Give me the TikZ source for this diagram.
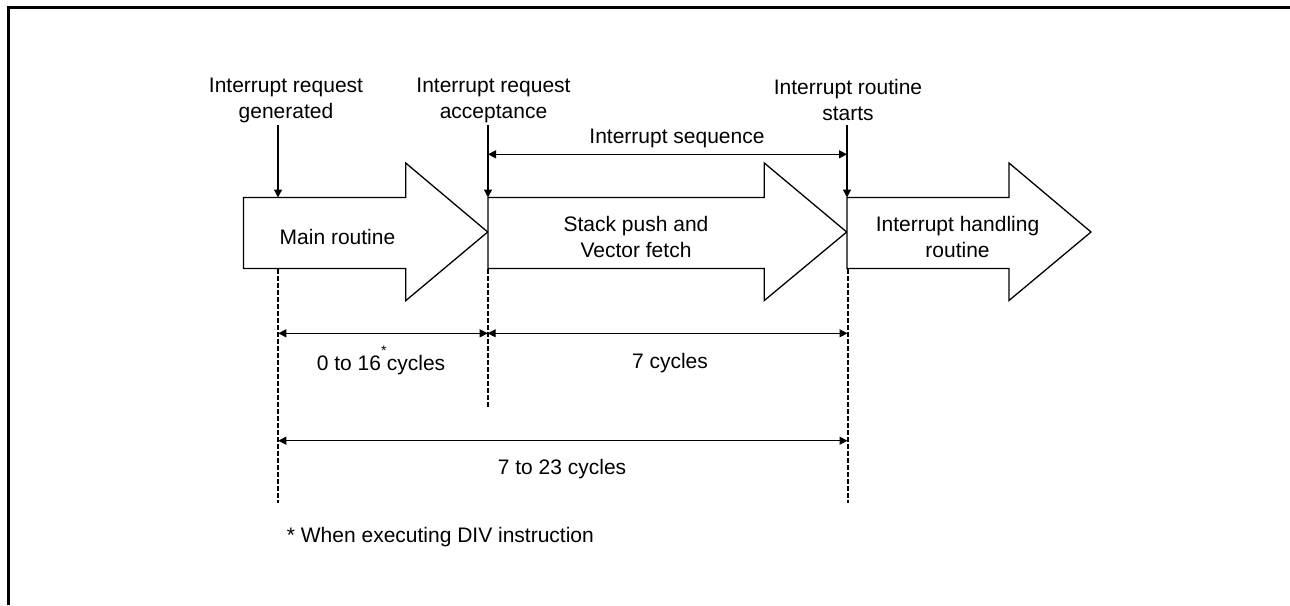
\documentclass[tikz,border=0pt]{standalone}
\usepackage{fontspec}
\setmainfont{Liberation Sans}
\usetikzlibrary{arrows.meta}
\tikzset{
  blk/.style={draw=black, line width=1.3pt, fill=white, line join=miter},
  lbl/.style={font=\fontsize{21}{25.5}\selectfont, align=center, inner sep=0pt},
  ptr/.style={line width=1.3pt, -{Triangle[length=8pt,width=8pt]}},
  dimline/.style={line width=1.3pt, {Triangle[length=8pt,width=8pt]}-{Triangle[length=8pt,width=8pt]}},
  guide/.style={line width=2pt, dash pattern=on 4.5pt off 2.5pt},
  frameline/.style={line width=3pt},
}
\begin{document}
\begin{tikzpicture}[x=1pt,y=-1pt]
\useasboundingbox (0,0) rectangle (1290,605);
% frame
\coordinate (fTR) at (1290,7.5);
\coordinate (fTL) at (7,7.5);
\coordinate (fL1) at (8.5,6);
\coordinate (fBL) at (8.5,605);
\draw[frameline] (fTL) -- (fTR);
\draw[frameline] (fL1) -- (fBL);

% big arrows
\draw[blk] (243.5,197.5) coordinate (a1top) -- (405.7,197.5) -- (405.7,163) -- (487.7,232) coordinate (a1tip)
  -- (405.7,300.7) -- (405.7,268.5) -- (243.5,268.5) -- cycle;
\draw[blk] (488,197.5) coordinate (a2top) -- (764.3,197.5) -- (764.3,163) -- (846.7,232) coordinate (a2tip)
  -- (764.3,300.5) -- (764.3,268.5) -- (488,268.5) -- cycle;
\draw[blk] (847,197.5) coordinate (a3top) -- (1009,197.5) -- (1009,163) -- (1091,232) coordinate (a3tip)
  -- (1009,300.5) -- (1009,268.5) -- (847,268.5) -- cycle;

% texts inside arrows
\node[lbl] (main) at (337.5,236.5) {Main routine};
\node[lbl] (stack) at (636,237) {Stack push and\\Vector fetch};
\node[lbl] (handling) at (957.5,237) {Interrupt handling\\routine};

% top labels
\node[lbl] (gen) at (286,100.5) {Interrupt request\\generated};
\node[lbl] (acc) at (493.5,100.5) {Interrupt request\\acceptance};
\node[lbl] (start) at (848,100) {Interrupt routine\\starts};
\node[lbl] (seq) at (677,138.5) {Interrupt sequence};

% pointer arrows
\coordinate (p1s) at (278,125);  \coordinate (p1e) at (278,197.5);
\coordinate (p2s) at (488,125);  \coordinate (p2e) at (488,197.5);
\coordinate (p3s) at (847,125);  \coordinate (p3e) at (847,197.5);
\draw[ptr] (p1s) -- (p1e);
\draw[ptr] (p2s) -- (p2e);
\draw[ptr] (p3s) -- (p3e);

% sequence dimension
\coordinate (s1) at (488,154.3);
\coordinate (s2) at (847,154.3);
\draw[dimline] (s1) -- (s2);

% guides
\coordinate (g1t) at (278.3,269); \coordinate (g1b) at (278.3,503);
\coordinate (g2t) at (487.7,269); \coordinate (g2b) at (487.7,408);
\coordinate (g3t) at (847.5,269); \coordinate (g3b) at (847.5,503);
\draw[guide] (g1t) -- (g1b);
\draw[guide] (g2t) -- (g2b);
\draw[guide] (g3t) -- (g3b);

% dimensions
\coordinate (d1a) at (278.3,333.3);
\coordinate (d1b) at (487.7,333.3);
\coordinate (d1c) at (847.5,333.3);
\coordinate (d2a) at (278.3,440.7);
\coordinate (d2b) at (847.5,440.7);
\draw[dimline] (d1a) -- (d1b);
\draw[dimline] (d1b) -- (d1c);
\draw[dimline] (d2a) -- (d2b);

\node[lbl] (c1) at (381,365) {0 to 16\hspace{2.92pt}\makebox[0pt]{\smash{\raisebox{14.7pt}{\fontsize{14}{16}\selectfont *}}}\hspace{2.92pt}cycles};
\node[lbl] (c2) at (670,363.5) {7 cycles};
\node[lbl] (c3) at (562,469) {7 to 23 cycles};

\node[lbl, anchor=west] (note) at (286.7,537.5) {* When executing DIV instruction};
\end{tikzpicture}
\end{document}
